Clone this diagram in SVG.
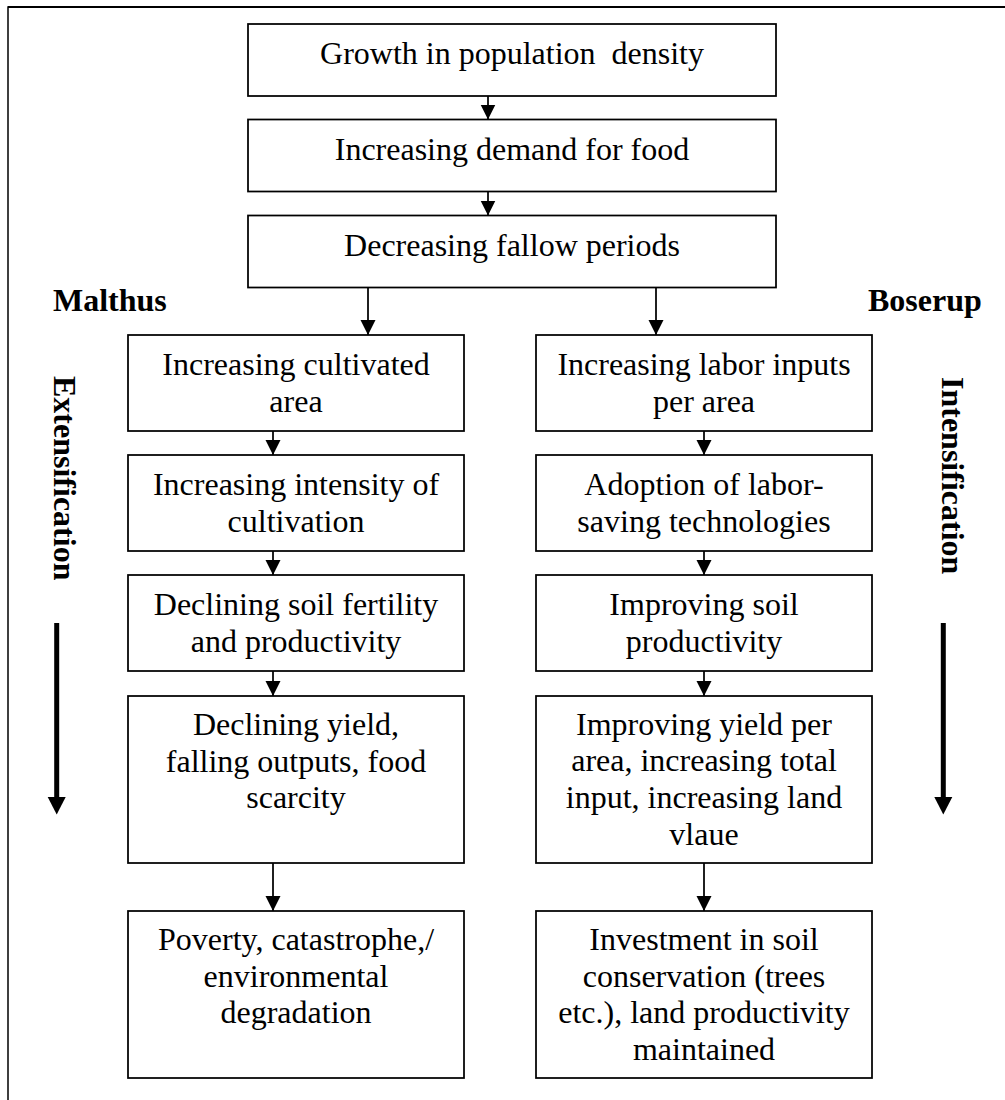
<svg xmlns="http://www.w3.org/2000/svg" width="1005" height="1100" viewBox="0 0 1005 1100">
<style>
.box{fill:#fff;stroke:#000;stroke-width:1.75}
.t{font-family:"Liberation Serif","Times New Roman",serif;font-size:32px;fill:#000;text-anchor:middle}
.lb{font-family:"Liberation Serif","Times New Roman",serif;font-size:32px;font-weight:bold;fill:#000}
.c{stroke:#000;stroke-width:1.75;fill:none}
.thick{stroke:#000;stroke-width:5;fill:none}
</style>
<defs>
<marker id="ah" viewBox="0 0 10 10" refX="10" refY="5" markerWidth="15" markerHeight="16" markerUnits="userSpaceOnUse" orient="auto">
<path d="M0,0 L10,5 L0,10 z" fill="#000"/>
</marker>
</defs>
<rect x="0" y="0" width="1005" height="1100" fill="#fff"/>
<path d="M8,1100 V7 H1005" fill="none" stroke="#000" stroke-width="1.5"/>
<line x1="8" y1="7" x2="1005" y2="7" stroke="#000" stroke-width="2"/>

<g id="connectors">
<line class="c" x1="488" y1="96" x2="488" y2="119.5" marker-end="url(#ah)"/>
<line class="c" x1="488" y1="191.5" x2="488" y2="215.5" marker-end="url(#ah)"/>
<line class="c" x1="368" y1="287.5" x2="368" y2="335" marker-end="url(#ah)"/>
<line class="c" x1="656" y1="287.5" x2="656" y2="335" marker-end="url(#ah)"/>
<line class="c" x1="273" y1="431" x2="273" y2="455" marker-end="url(#ah)"/>
<line class="c" x1="273" y1="551" x2="273" y2="575" marker-end="url(#ah)"/>
<line class="c" x1="273" y1="671" x2="273" y2="696" marker-end="url(#ah)"/>
<line class="c" x1="273" y1="863" x2="273" y2="911" marker-end="url(#ah)"/>
<line class="c" x1="704" y1="431" x2="704" y2="455" marker-end="url(#ah)"/>
<line class="c" x1="704" y1="551" x2="704" y2="575" marker-end="url(#ah)"/>
<line class="c" x1="704" y1="671" x2="704" y2="696" marker-end="url(#ah)"/>
<line class="c" x1="704" y1="863" x2="704" y2="911" marker-end="url(#ah)"/>
</g>

<g id="top1"><rect class="box" x="248" y="24" width="528" height="72"/><text class="t" x="512" y="64" xml:space="preserve">Growth in population  density</text></g>
<g id="top2"><rect class="box" x="248" y="119.5" width="528" height="72"/><text class="t" x="512" y="160">Increasing demand for food</text></g>
<g id="top3"><rect class="box" x="248" y="215.5" width="528" height="72"/><text class="t" x="512" y="256">Decreasing fallow periods</text></g>

<g id="m1"><rect class="box" x="128" y="335" width="336" height="96"/><text class="t" x="296" y="375">Increasing cultivated</text><text class="t" x="296" y="411.5">area</text></g>
<g id="m2"><rect class="box" x="128" y="455" width="336" height="96"/><text class="t" x="296" y="495">Increasing intensity of</text><text class="t" x="296" y="531.5">cultivation</text></g>
<g id="m3"><rect class="box" x="128" y="575" width="336" height="96"/><text class="t" x="296" y="615">Declining soil fertility</text><text class="t" x="296" y="651.5">and productivity</text></g>
<g id="m4"><rect class="box" x="128" y="696" width="336" height="167"/><text class="t" x="296" y="735">Declining yield,</text><text class="t" x="296" y="771.5">falling outputs, food</text><text class="t" x="296" y="808">scarcity</text></g>
<g id="m5"><rect class="box" x="128" y="911" width="336" height="167"/><text class="t" x="296" y="950">Poverty, catastrophe,/</text><text class="t" x="296" y="986.5">environmental</text><text class="t" x="296" y="1023">degradation</text></g>

<g id="b1"><rect class="box" x="536" y="335" width="336" height="96"/><text class="t" x="704" y="375">Increasing labor inputs</text><text class="t" x="704" y="411.5">per area</text></g>
<g id="b2"><rect class="box" x="536" y="455" width="336" height="96"/><text class="t" x="704" y="495">Adoption of labor-</text><text class="t" x="704" y="531.5">saving technologies</text></g>
<g id="b3"><rect class="box" x="536" y="575" width="336" height="96"/><text class="t" x="704" y="615">Improving soil</text><text class="t" x="704" y="651.5">productivity</text></g>
<g id="b4"><rect class="box" x="536" y="696" width="336" height="167"/><text class="t" x="704" y="734.5">Improving yield per</text><text class="t" x="704" y="771">area, increasing total</text><text class="t" x="704" y="808">input, increasing land</text><text class="t" x="704" y="845">vlaue</text></g>
<g id="b5"><rect class="box" x="536" y="911" width="336" height="167"/><text class="t" x="704" y="950">Investment in soil</text><text class="t" x="704" y="986.5">conservation (trees</text><text class="t" x="704" y="1023">etc.), land productivity</text><text class="t" x="704" y="1060">maintained</text></g>

<g id="labels">
<text class="lb" x="53" y="311">Malthus</text>
<text class="lb" x="868" y="311">Boserup</text>
<text class="lb" transform="translate(54,376) rotate(90)">Extensification</text>
<text class="lb" transform="translate(942,377) rotate(90)">Intensification</text>
<line class="thick" x1="56.7" y1="623" x2="56.7" y2="799"/>
<polygon points="47.7,797 65.7,797 56.7,814.5" fill="#000"/>
<line class="thick" x1="943.3" y1="623" x2="943.3" y2="799"/>
<polygon points="934.3,797 952.3,797 943.3,814.5" fill="#000"/>
</g>
</svg>
